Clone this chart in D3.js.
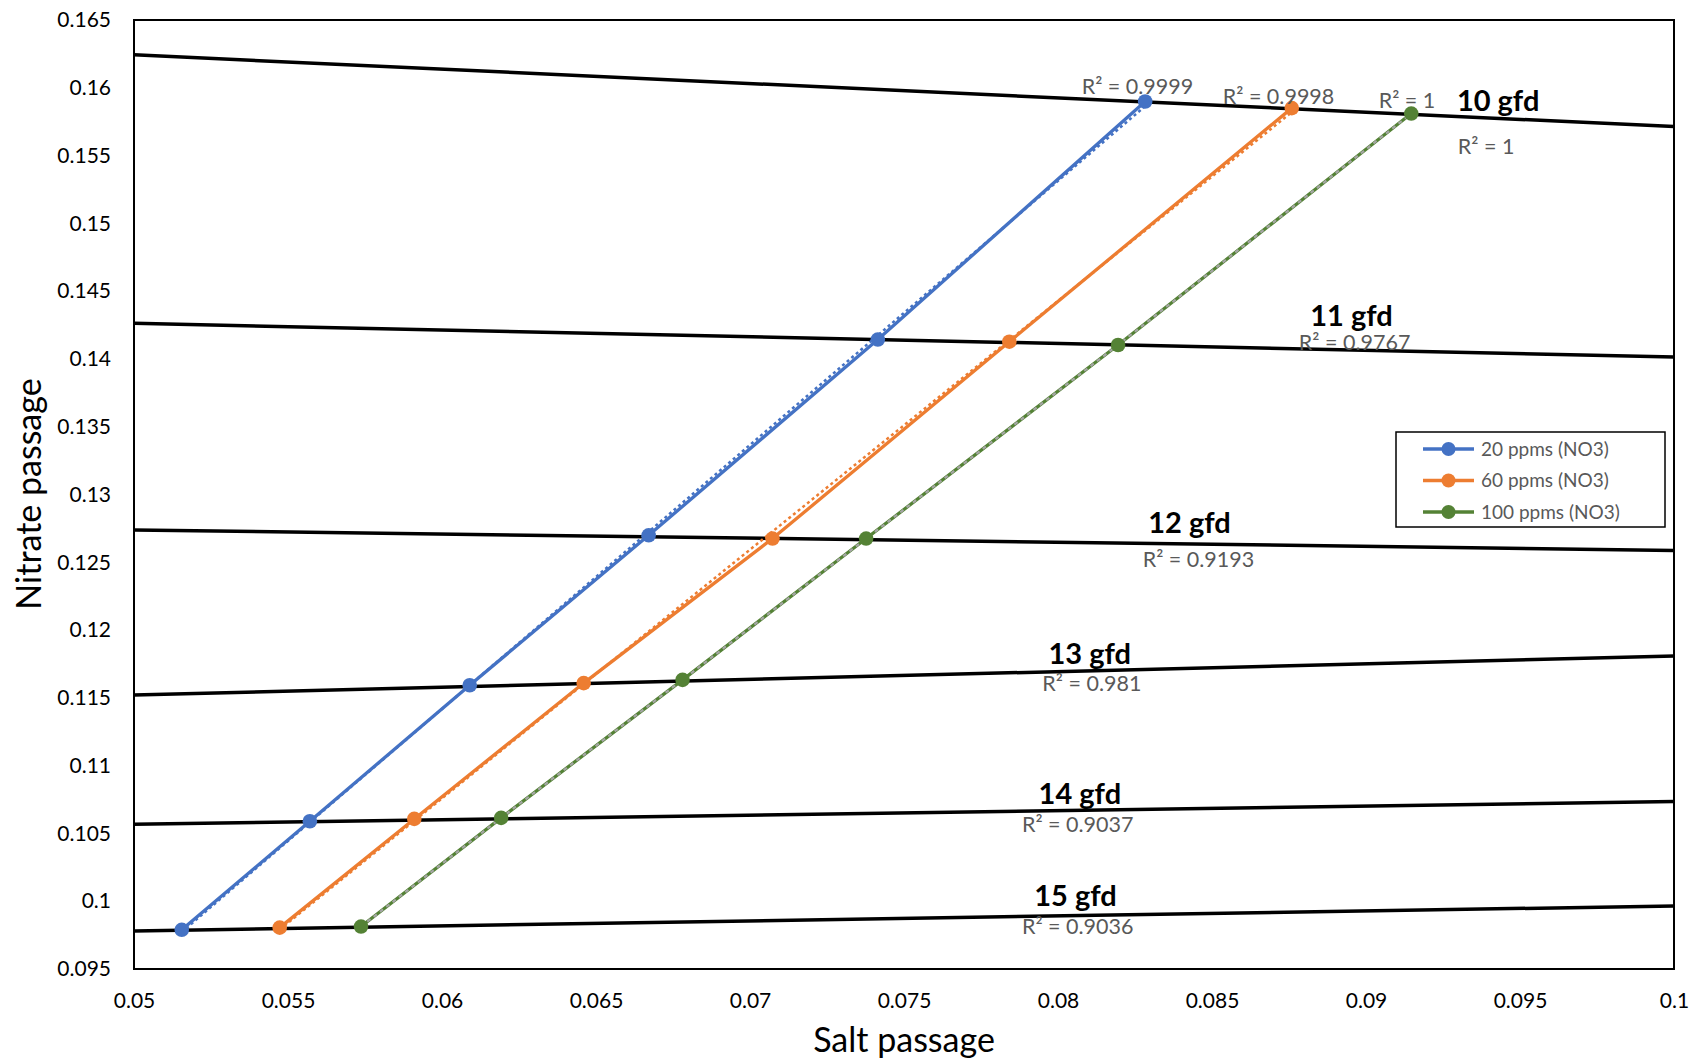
<!DOCTYPE html>
<html>
<head>
<meta charset="utf-8">
<script src="https://cdn.jsdelivr.net/npm/d3@7"></script>
<style>
  body { margin: 0; background: #fff; }
  svg { display: block; font-family: Lato, "Open Sans", sans-serif; }
  .axis .domain, .axis line { display: none; }
  .r2 { font-size: 21.5px; fill: #595959; }
  .gfd { font-size: 29px; font-weight: 700; fill: #000; }
  .axis-title { font-size: 34px; fill: #000; }
  .legend-text { font-size: 19px; fill: #595959; }
</style>
</head>
<body>
<svg id="chart"></svg>
<script>
// Nitrate passage vs salt passage, three feed concentrations, iso-flux lines

const seriesNames = ["20 ppms (NO3)", "60 ppms (NO3)", "100 ppms (NO3)"];
const seriesColors = ["#4472C4", "#ED7D31", "#548235"];
const trendColors = ["#4472C4", "#ED7D31", "#A5A5A5"];

// salt passage / nitrate passage, points ordered 15 gfd -> 10 gfd
const salt20 = [0.05155, 0.05571, 0.06090, 0.06671, 0.07415, 0.08283];
const nitrate20 = [0.09789, 0.10590, 0.11593, 0.12699, 0.14143, 0.15899];
const salt60 = [0.05473, 0.05910, 0.06460, 0.07073, 0.07842, 0.08759];
const nitrate60 = [0.09805, 0.10607, 0.11609, 0.12675, 0.14127, 0.15850];
const salt100 = [0.05737, 0.06192, 0.06781, 0.07377, 0.08195, 0.09147];
const nitrate100 = [0.09813, 0.10615, 0.11633, 0.12675, 0.14103, 0.15810];
const seriesR2 = ["R² = 0.9999", "R² = 0.9998", "R² = 1"];

// iso-flux trend lines: nitrate passage at salt passage 0.05 and 0.1
const gfdLabels = ["10 gfd", "11 gfd", "12 gfd", "13 gfd", "14 gfd", "15 gfd"];
const gfdAtLeft = [0.16243, 0.14263, 0.12739, 0.11521, 0.10567, 0.09781];
const gfdAtRight = [0.15714, 0.14014, 0.12587, 0.11809, 0.10735, 0.09965];
const gfdR2 = ["R² = 1", "R² = 0.9767", "R² = 0.9193", "R² = 0.981", "R² = 0.9037", "R² = 0.9036"];

const xTicks = [0.05, 0.055, 0.06, 0.065, 0.07, 0.075, 0.08, 0.085, 0.09, 0.095, 0.1];
const yTicks = [0.095, 0.1, 0.105, 0.11, 0.115, 0.12, 0.125, 0.13, 0.135, 0.14, 0.145, 0.15, 0.155, 0.16, 0.165];

const W = 1703, H = 1060;
const MARGIN = { top: 20, right: 29, bottom: 91, left: 134 };
const innerW = W - MARGIN.left - MARGIN.right;
const innerH = H - MARGIN.top - MARGIN.bottom;

const svg = d3.select("#chart").attr("width", W).attr("height", H);
const g = svg.append("g").attr("transform", `translate(${MARGIN.left},${MARGIN.top})`);

const x = d3.scaleLinear().domain([0.05, 0.1]).range([0, innerW]);
const y = d3.scaleLinear().domain([0.095, 0.165]).range([innerH, 0]);

const xAx = g.append("g").attr("class", "axis x-axis")
  .attr("transform", `translate(0,${innerH})`)
  .call(d3.axisBottom(x).tickValues(xTicks).tickSize(0).tickPadding(24).tickFormat(d3.format("~g")));
const yAx = g.append("g").attr("class", "axis y-axis")
  .call(d3.axisLeft(y).tickValues(yTicks).tickSize(0).tickPadding(23).tickFormat(d3.format("~g")));
[xAx, yAx].forEach((a) => a.attr("font-family", null).attr("font-size", null)
  .selectAll("text").style("font-family", "Lato, sans-serif").style("font-size", "21px").attr("fill", "#000"));

g.append("rect")
  .attr("width", innerW).attr("height", innerH)
  .attr("fill", "none").attr("stroke", "#000").attr("stroke-width", 2);

const series = [
  { name: seriesNames[0], xs: salt20, ys: nitrate20 },
  { name: seriesNames[1], xs: salt60, ys: nitrate60 },
  { name: seriesNames[2], xs: salt100, ys: nitrate100 },
].map((s, i) => ({ ...s, color: seriesColors[i], trend: trendColors[i],
  pts: s.xs.map((v, j) => ({ x: v, y: s.ys[j] })) }));

const line = d3.line().x((d) => x(d.x)).y((d) => y(d.y));

// iso-flux lines (drawn under the series)
const gfdG = g.append("g");
gfdLabels.forEach((lab, i) => {
  gfdG.append("path")
    .attr("d", line([{ x: 0.05, y: gfdAtLeft[i] }, { x: 0.1, y: gfdAtRight[i] }]))
    .attr("fill", "none").attr("stroke", "#000").attr("stroke-width", 3.5);
});

// series lines
g.append("g").selectAll("path").data(series).join("path")
  .attr("d", (d) => line(d.pts))
  .attr("fill", "none").attr("stroke", (d) => d.color).attr("stroke-width", 3.3);

// linear trendlines (dotted); the grey one for 100 ppm sits on the green line
function fit(pts) {
  const mx = d3.mean(pts, (p) => p.x), my = d3.mean(pts, (p) => p.y);
  const b = d3.sum(pts, (p) => (p.x - mx) * (p.y - my)) / d3.sum(pts, (p) => (p.x - mx) ** 2);
  return (v) => my + b * (v - mx);
}
g.append("g").selectAll("path").data(series).join("path")
  .attr("d", (d, i) => {
    if (i === 2) return line(d.pts);
    const f = fit(d.pts);
    const x0 = d3.min(d.xs), x1 = d3.max(d.xs);
    return line([{ x: x0, y: f(x0) }, { x: x1, y: f(x1) }]);
  })
  .attr("fill", "none").attr("stroke", (d) => d.trend)
  .attr("stroke-width", (d, i) => i === 2 ? 2.2 : 2.5)
  .attr("stroke-dasharray", (d, i) => i === 2 ? "4,4" : "3,3");

// markers
g.append("g").selectAll("g").data(series).join("g")
  .attr("fill", (d) => d.color)
  .selectAll("circle").data((d) => d.pts).join("circle")
  .attr("cx", (d) => x(d.x)).attr("cy", (d) => y(d.y)).attr("r", 7.3);

// annotations, anchored in data units
const annotations = [
  { text: seriesR2[0], cls: "r2", x: 0.08258, y: 0.16011 },
  { text: seriesR2[1], cls: "r2", x: 0.08716, y: 0.15939 },
  { text: seriesR2[2], cls: "r2", x: 0.09133, y: 0.15907 },
  { text: gfdLabels[0], cls: "gfd", x: 0.09429, y: 0.15907 },
  { text: gfdR2[0], cls: "r2", x: 0.09390, y: 0.15570 },
  { text: gfdLabels[1], cls: "gfd", x: 0.08953, y: 0.14315 },
  { text: gfdR2[1], cls: "r2", x: 0.08963, y: 0.14125 },
  { text: gfdLabels[2], cls: "gfd", x: 0.08427, y: 0.12788 },
  { text: gfdR2[2], cls: "r2", x: 0.08456, y: 0.12523 },
  { text: gfdLabels[3], cls: "gfd", x: 0.08103, y: 0.11825 },
  { text: gfdR2[3], cls: "r2", x: 0.08110, y: 0.11609 },
  { text: gfdLabels[4], cls: "gfd", x: 0.08071, y: 0.10791 },
  { text: gfdR2[4], cls: "r2", x: 0.08064, y: 0.10567 },
  { text: gfdLabels[5], cls: "gfd", x: 0.08057, y: 0.10037 },
  { text: gfdR2[5], cls: "r2", x: 0.08064, y: 0.09813 },
];
g.append("g").selectAll("text").data(annotations).join("text")
  .attr("class", (d) => d.cls)
  .attr("x", (d) => x(d.x)).attr("y", (d) => y(d.y))
  .attr("text-anchor", "middle").attr("dy", "0.35em")
  .text((d) => d.text);

// legend
const leg = svg.append("g").attr("transform", "translate(1396,432)");
leg.append("rect").attr("width", 269).attr("height", 95)
  .attr("fill", "#fff").attr("stroke", "#000").attr("stroke-width", 1.5);
const items = leg.selectAll("g.item").data(series).join("g")
  .attr("class", "item")
  .attr("transform", (d, i) => `translate(0,${17 + i * 31.5})`);
items.append("line").attr("x1", 27).attr("x2", 78)
  .attr("stroke", (d) => d.color).attr("stroke-width", 3.3);
items.append("circle").attr("cx", 52.5).attr("r", 7).attr("fill", (d) => d.color);
items.append("text").attr("class", "legend-text").attr("x", 85).attr("dy", "0.35em")
  .text((d) => d.name);

// axis titles
svg.append("text").attr("class", "axis-title")
  .attr("x", 904).attr("y", 1040)
  .attr("text-anchor", "middle").attr("dy", "0.35em")
  .text("Salt passage");
svg.append("text").attr("class", "axis-title")
  .attr("transform", "translate(29,494) rotate(-90)")
  .attr("text-anchor", "middle").attr("dy", "0.35em")
  .text("Nitrate passage");
</script>
</body>
</html>
